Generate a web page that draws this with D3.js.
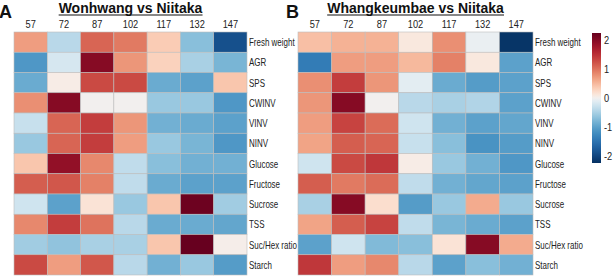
<!DOCTYPE html>
<html>
<head>
<meta charset="utf-8">
<script src="https://cdn.jsdelivr.net/npm/d3@7"></script>
<style>
  body { margin: 0; background: #fff; }
  text { font-family: "Liberation Sans", Arial, sans-serif; }
</style>
</head>
<body>
<script>
// days after full bloom (columns) and traits (rows)
const days = ['57', '72', '87', '102', '117', '132', '147'];
const traits = ['Fresh weight', 'AGR', 'SPS', 'CWINV', 'VINV', 'NINV', 'Glucose',
  'Fructose', 'Sucrose', 'TSS', 'Suc/Hex ratio', 'Starch'];
const legendTicks = [2, 1, 0, -1, -2];

// z-scores, Wonhwang vs Niitaka
const wonhwang = [
  [0.7, -0.4, 1.1, 0.95, 0.35, -0.7, -1.9],
  [-1.1, -0.2, 2.0, 0.75, 0.3, -0.5, -0.8],
  [-0.9, 0.05, 1.3, 1.3, -0.9, -1.0, 0.4],
  [0.8, 2.0, 0, 0, -0.6, -0.6, -1.1],
  [-0.3, 1.1, 1.4, 0.75, -0.85, -0.9, -1.0],
  [-0.6, 1.1, 1.4, 0.7, -0.6, -0.8, -1.1],
  [0.4, 1.9, 0.85, -0.35, -0.7, -0.85, -0.85],
  [1.15, 1.2, 0.9, -0.35, -0.9, -1.0, -1.0],
  [-0.25, -1.0, 0.15, -0.6, 0.4, 2.2, -0.55],
  [0.85, 1.4, 1.0, -0.4, -0.9, -0.9, -0.95],
  [-0.55, -0.65, -0.5, -0.5, 0.4, 2.25, 0.03],
  [1.3, 0.7, 1.2, -0.4, -0.85, -0.6, -1.05]
];

// z-scores, Whangkeumbae vs Niitaka
const whangkeumbae = [
  [0.45, 0.55, 0.55, 0.1, 0.8, -0.05, -2.2],
  [-1.4, 0.7, 0.7, 0.5, 0.9, 0.1, -1.0],
  [0.8, 1.4, 0.75, -0.1, -0.9, -1.05, -1.0],
  [0.75, 2.0, 0, -0.4, -0.5, -0.45, -1.0],
  [0.7, 1.35, 1.05, -0.25, -0.85, -1.0, -0.95],
  [0.65, 1.15, 1.1, -0.3, -0.7, -1.15, -1.05],
  [-0.25, 1.3, 1.45, 0.05, -0.6, -0.85, -1.1],
  [1.15, 0.95, 1.05, -0.35, -0.85, -0.95, -1.0],
  [-0.5, 2.0, 0.2, -1.05, -0.6, 0.6, -0.6],
  [0.65, 1.15, 1.35, -0.35, -0.8, -0.9, -1.0],
  [-1.0, -0.25, -0.75, -0.7, 0.15, 2.0, 0.6],
  [1.45, 0.7, 0.85, -0.4, -1.0, -0.7, -0.85]
];

const W = 613, H = 277;
const svg = d3.select('body').append('svg')
  .attr('width', W)
  .attr('height', H);

const zmax = 2.25;
// RdBu, a bit steeper near zero like the original palette
const color = v => {
  const s = Math.sign(v) * Math.pow(Math.min(Math.abs(v) / zmax, 1), 0.75);
  return d3.interpolateRdBu(0.5 - s / 2);
};

const y = d3.scaleBand().domain(traits).range([32, 275]).padding(0);

function panel(letter, title, data, x0, x1, letterX) {
  const x = d3.scaleBand().domain(days).range([x0, x1]).padding(0);
  const g = svg.append('g');

  data.forEach((row, i) => {
    g.selectAll(null)
      .data(row)
      .enter()
      .append('rect')
      .attr('x', (d, j) => x(days[j]))
      .attr('y', y(traits[i]))
      .attr('width', x.bandwidth())
      .attr('height', y.bandwidth())
      .attr('fill', d => color(d))
      .attr('stroke', '#bdbdbd')
      .attr('stroke-width', 0.6);
  });

  // column labels
  g.selectAll('.col')
    .data(days)
    .enter()
    .append('text')
    .attr('transform', d => `translate(${x(d) + x.bandwidth() / 2},28) scale(0.88,1)`)
    .attr('text-anchor', 'middle')
    .attr('font-size', 10.5)
    .attr('fill', '#222')
    .text(d => d);

  // row labels (narrow font in the original)
  g.selectAll('.row')
    .data(traits)
    .enter()
    .append('text')
    .attr('transform', d => `translate(${x1 + 2},${y(d) + y.bandwidth() / 2 + 4}) scale(0.76,1)`)
    .attr('font-size', 10.5)
    .attr('fill', '#222')
    .text(d => d);

  // title, underlined
  const t = g.append('text')
    .attr('x', (x0 + x1) / 2)
    .attr('y', 13)
    .attr('text-anchor', 'middle')
    .attr('font-size', 14)
    .attr('font-weight', 'bold')
    .attr('font-family', '"Open Sans", sans-serif')
    .attr('fill', '#111')
    .text(title);
  const bb = t.node().getBBox();
  g.append('line')
    .attr('x1', bb.x)
    .attr('x2', bb.x + bb.width)
    .attr('y1', 15)
    .attr('y2', 15)
    .attr('stroke', '#111')
    .attr('stroke-width', 1.2);

  svg.append('text')
    .attr('x', letterX)
    .attr('y', 18)
    .attr('font-size', 18)
    .attr('font-weight', 'bold')
    .attr('font-family', '"Open Sans", sans-serif')
    .attr('fill', '#111')
    .text(letter);
}

panel('A', 'Wonhwang vs Niitaka', wonhwang, 14, 247, -1);
panel('B', 'Whangkeumbae vs Niitaka', whangkeumbae, 298, 533, 286);

// colour bar
const cb = d3.scaleLinear().domain([zmax, -zmax]).range([33, 163]);
const defs = svg.append('defs');
const grad = defs.append('linearGradient')
  .attr('id', 'cbar')
  .attr('x1', 0).attr('y1', 0).attr('x2', 0).attr('y2', 1);
d3.range(0, 1.0001, 0.025).forEach(p => {
  grad.append('stop')
    .attr('offset', p)
    .attr('stop-color', color(zmax - p * 2 * zmax));
});
svg.append('rect')
  .attr('x', 592)
  .attr('y', cb(zmax))
  .attr('width', 9)
  .attr('height', cb(-zmax) - cb(zmax))
  .attr('fill', 'url(#cbar)');

svg.selectAll('.cbt')
  .data(legendTicks)
  .enter()
  .append('text')
  .attr('transform', d => `translate(604,${cb(d) + 4}) scale(0.88,1)`)
  .attr('font-size', 10.5)
  .attr('fill', '#222')
  .text(d => d);
</script>
</body>
</html>
